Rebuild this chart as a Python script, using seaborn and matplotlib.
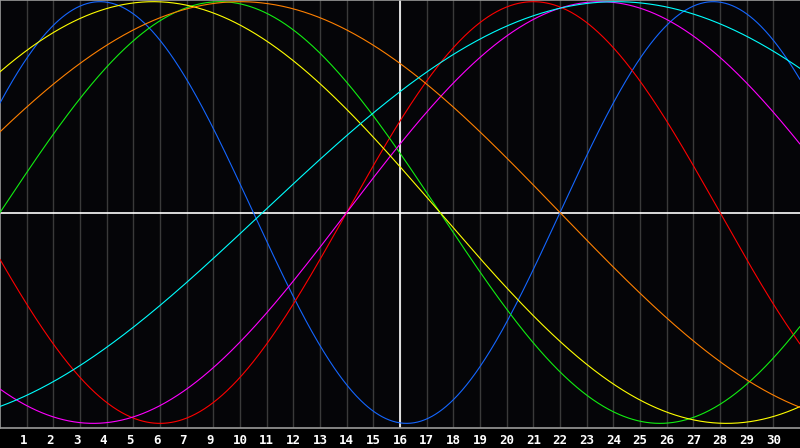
import numpy as np
import pandas as pd
import seaborn as sns
import matplotlib
matplotlib.use("Agg")
import matplotlib.pyplot as plt

# cycle data: cycle length (days) and the day offset
# where each curve crosses zero going up
cycle_names   = ["physical", "emotional", "intellectual", "intuitive", "aesthetic", "awareness", "spiritual"]
cycle_periods = [23, 28, 33, 38, 43, 48, 53]
cycle_offsets = [-2.0, 13.0, 0.0, 13.0, -5.0, -3.0, 9.85]
cycle_colors  = ["#1466ff", "#ff0000", "#11ee11", "#ff00ff", "#ffff00", "#ff8000", "#00ffff"]

# day labels along the bottom (day 8 is not on the chart)
day_positions = list(range(1, 30))
day_labels    = ["1", "2", "3", "4", "5", "6", "7", "9", "10", "11", "12", "13", "14", "15",
                 "16", "17", "18", "19", "20", "21", "22", "23", "24", "25", "26", "27",
                 "28", "29", "30"]
today_position = 15
n_days = 30

sns.set_style("dark", {"axes.facecolor": "#050508", "figure.facecolor": "#000000"})

days = np.linspace(0, n_days, 901)
frames = []
for name, period, offset in zip(cycle_names, cycle_periods, cycle_offsets):
    frames.append(pd.DataFrame({
        "day": days,
        "value": np.sin(2 * np.pi * (days - offset) / period),
        "cycle": name,
    }))
df = pd.concat(frames, ignore_index=True)

fig = plt.figure(figsize=(8, 4.48), dpi=100)
ax = fig.add_axes([0, 20 / 448, 1, 428 / 448])
ax.set_facecolor("#050508")

for x in day_positions:
    ax.axvline(x, color="#3a3a3a", lw=1.0, zorder=1)
ax.axvline(today_position, color="white", lw=1.2, zorder=2)
ax.axhline(0, color="white", lw=1.2, zorder=2)

sns.lineplot(data=df, x="day", y="value", hue="cycle", hue_order=cycle_names,
             palette=cycle_colors, lw=0.8, legend=False, ax=ax, zorder=3)

ax.set_xlim(0, n_days)
ax.set_ylim(-1.022, 1.008)
# single-digit labels sit a few pixels left of their grid line in the original
ax.set_xticks([p - 0.13 if len(t) == 1 else p for p, t in zip(day_positions, day_labels)])
ax.set_xticklabels(day_labels, color="white", fontsize=9, fontweight="bold",
                   family="DejaVu Sans Mono")
ax.set_yticks([])
ax.tick_params(axis="x", length=0, pad=4)
ax.set_xlabel("")
ax.set_ylabel("")
for side in ["left", "top", "bottom"]:
    ax.spines[side].set_visible(True)
    ax.spines[side].set_color("#9a9a9a")
    ax.spines[side].set_linewidth(1.2)
ax.spines["right"].set_visible(False)
ax.grid(False)

fig.savefig("out.png", dpi=100, facecolor="#000000")
